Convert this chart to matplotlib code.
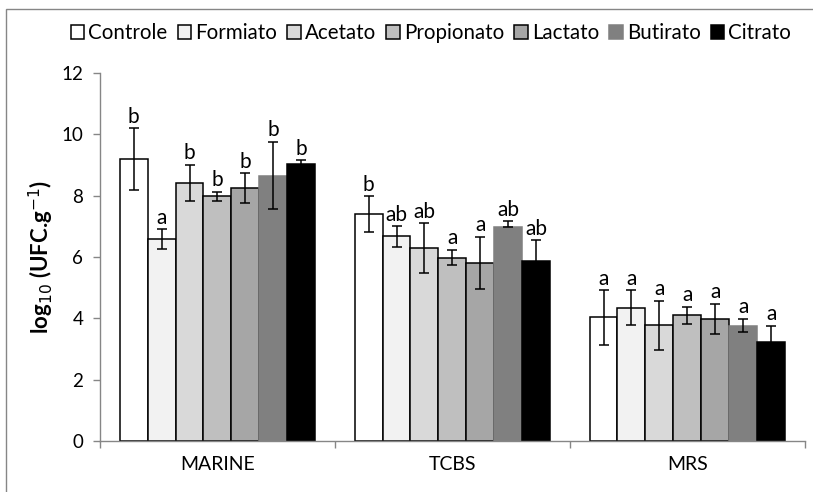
#!/usr/bin/env python3
"""Viable counts per culture medium for each organic acid treatment."""

import numpy as np
import matplotlib.pyplot as plt
from matplotlib.patches import Rectangle

plt.rcParams["font.family"] = ["Lato", "DejaVu Sans"]

media = ["MARINE", "TCBS", "MRS"]
treatments = ["Controle", "Formiato", "Acetato", "Propionato", "Lactato", "Butirato", "Citrato"]

# log10 counts (rows = treatments, columns = media)
means = {
    "Controle":   [9.20, 7.39, 4.03],
    "Formiato":   [6.58, 6.67, 4.35],
    "Acetato":    [8.42, 6.29, 3.78],
    "Propionato": [7.98, 5.98, 4.10],
    "Lactato":    [8.24, 5.81, 3.98],
    "Butirato":   [8.65, 6.98, 3.76],
    "Citrato":    [9.03, 5.87, 3.24],
}
err_up = {
    "Controle":   [1.00, 0.59, 0.89],
    "Formiato":   [0.32, 0.33, 0.57],
    "Acetato":    [0.59, 0.81, 0.80],
    "Propionato": [0.14, 0.25, 0.28],
    "Lactato":    [0.49, 0.85, 0.50],
    "Butirato":   [1.10, 0.18, 0.22],
    "Citrato":    [0.12, 0.68, 0.51],
}
err_down = {
    "Controle":   [1.00, 0.59, 0.89],
    "Formiato":   [0.32, 0.33, 0.57],
    "Acetato":    [0.59, 0.81, 0.80],
    "Propionato": [0.14, 0.25, 0.28],
    "Lactato":    [0.49, 0.85, 0.50],
    "Butirato":   [1.10, 0.00, 0.22],
    "Citrato":    [0.12, 0.68, 0.51],
}
letters = {
    "Controle":   ["b", "b", "a"],
    "Formiato":   ["a", "ab", "a"],
    "Acetato":    ["b", "ab", "a"],
    "Propionato": ["b", "a", "a"],
    "Lactato":    ["b", "a", "a"],
    "Butirato":   ["b", "ab", "a"],
    "Citrato":    ["b", "ab", "a"],
}
fills = ["#FFFFFF", "#F2F2F2", "#D9D9D9", "#BFBFBF", "#A6A6A6", "#808080", "#000000"]
edges = ["#000000", "#000000", "#000000", "#000000", "#000000", "#808080", "#000000"]

axis_gray = "#868686"

fig = plt.figure(figsize=(8.13, 4.92), dpi=100)
ax = fig.add_axes([0.123, 0.1037, 0.867, 0.748])

# chart-area frame
fig.patches.append(Rectangle((6 / 813, -0.05), 1.1, 0.05 + (492 - 9) / 492,
                             transform=fig.transFigure, fill=False,
                             edgecolor=axis_gray, lw=1.0))

x = np.arange(len(media))
width = 0.119
offsets = (np.arange(len(treatments)) - (len(treatments) - 1) / 2) * width

for i, t in enumerate(treatments):
    xi = x + offsets[i]
    ax.bar(xi, means[t], width, color=fills[i], edgecolor=edges[i],
           linewidth=1.1, label=t, zorder=2)
    ax.errorbar(xi, means[t], yerr=[err_down[t], err_up[t]], fmt="none", ecolor="black",
                elinewidth=1.1, capsize=3.3, capthick=1.1, zorder=3)
    for xx, m, e, s in zip(xi, means[t], err_up[t], letters[t]):
        ax.text(xx, m + e + 0.05, s, ha="center", va="bottom", fontsize=15)

ax.set_xlim(-0.5, 2.5)
ax.set_ylim(0, 12)
ax.set_yticks(np.arange(0, 13, 2))
ax.set_xticks(x)
ax.set_xticklabels(media, fontsize=14)
ax.set_xticks([-0.5, 0.5, 1.5, 2.5], minor=True)
ax.tick_params(axis="x", which="major", length=0, pad=11)
ax.tick_params(axis="x", which="minor", length=5, color=axis_gray, width=1.0)
ax.tick_params(axis="y", length=5, color=axis_gray, width=1.0, labelsize=13.5, pad=7)

for side in ["top", "right"]:
    ax.spines[side].set_visible(False)
for side in ["left", "bottom"]:
    ax.spines[side].set_color(axis_gray)
    ax.spines[side].set_linewidth(1.0)

ax.set_ylabel("log$_{10}$ (UFC.g$^{-1}$)", fontsize=16, fontweight="bold", labelpad=4)

leg = fig.legend(loc="center", bbox_to_anchor=(0.53, 0.933), ncol=7, frameon=False,
                 fontsize=14.8, handlelength=0.65, handleheight=0.65,
                 handletextpad=0.2, columnspacing=0.5, borderaxespad=0)

fig.savefig("out.png", dpi=100)
